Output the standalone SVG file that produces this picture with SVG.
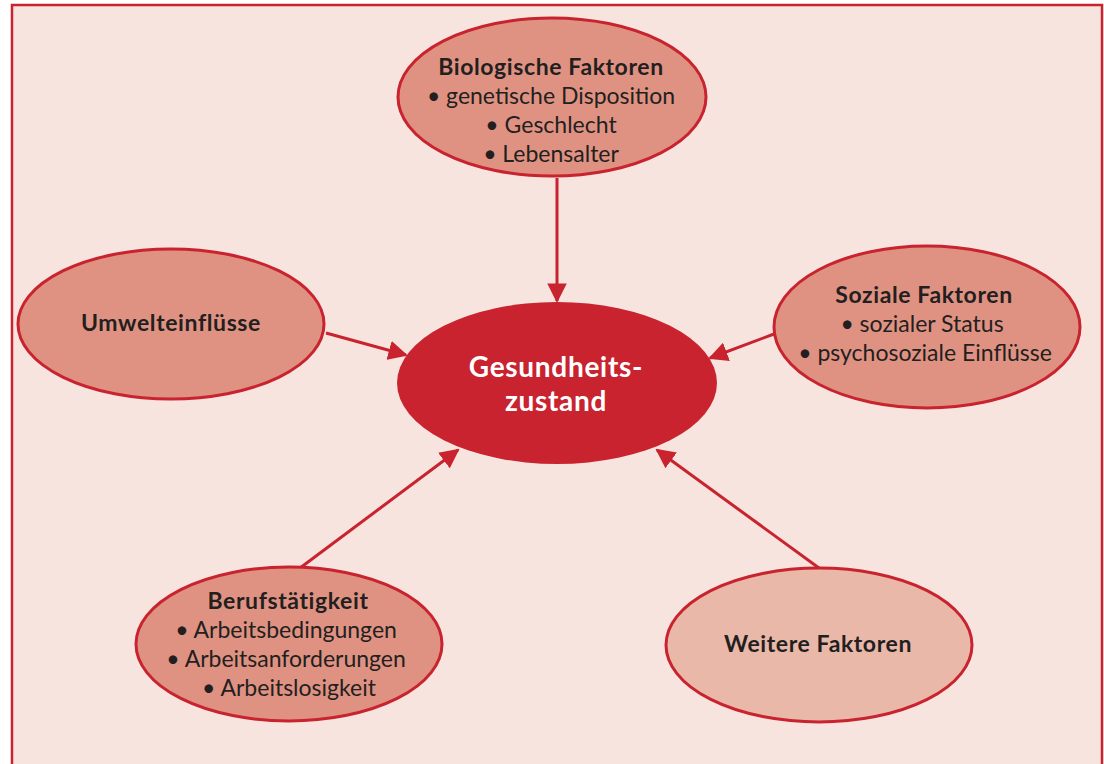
<svg xmlns="http://www.w3.org/2000/svg" width="1104" height="764" viewBox="0 0 1104 764">
<defs>
<style>
.node{fill:#E09282;stroke:#C8232F;stroke-width:3}
.light{fill:#EAB8A8}
.core{fill:#C8232F;stroke:none}
text{font-family:Lato,"Open Sans","Liberation Sans",sans-serif;font-size:23px;fill:#231F20;text-anchor:middle}
.b{font-weight:bold;letter-spacing:0.6px}
.w{fill:#FFFFFF;font-weight:bold;font-size:28px;letter-spacing:0.7px}
.con{stroke:#C8232F;stroke-width:3;fill:none;marker-end:url(#ah)}
</style>
<marker id="ah" viewBox="0 0 10 10" refX="9" refY="5" markerWidth="6.5" markerHeight="6.5" markerUnits="strokeWidth" orient="auto">
<path d="M0,0 L10,5 L0,10 Z" fill="#C8232F"/>
</marker>
</defs>
<rect x="0" y="0" width="1104" height="764" fill="#FFFFFF"/>
<rect x="12" y="5" width="1090" height="780" fill="#F7E4DE" stroke="#C8232F" stroke-width="2.5"/>
<g id="connectors">
<line class="con" x1="557" y1="178" x2="557" y2="301"/>
<line class="con" x1="326" y1="333" x2="406" y2="355"/>
<line class="con" x1="774" y1="334" x2="710" y2="358"/>
<line class="con" x1="300" y1="568" x2="458" y2="450"/>
<line class="con" x1="819" y1="568" x2="657" y2="450"/>
</g>
<g id="bio">
<ellipse class="node" cx="552" cy="97" rx="154" ry="79"/>
<text class="b" x="551" y="75">Biologische Faktoren</text>
<text x="551" y="104">• genetische Disposition</text>
<text x="551" y="133">• Geschlecht</text>
<text x="551" y="162">• Lebensalter</text>
</g>
<g id="umwelt">
<ellipse class="node" cx="171" cy="324" rx="153" ry="75"/>
<text class="b" x="171" y="331">Umwelteinflüsse</text>
</g>
<g id="sozial">
<ellipse class="node" cx="927" cy="327" rx="153" ry="81"/>
<text class="b" x="924" y="303">Soziale Faktoren</text>
<text x="922" y="332">• sozialer Status</text>
<text x="925" y="361">• psychosoziale Einflüsse</text>
</g>
<g id="center">
<ellipse class="core" cx="557" cy="383" rx="160" ry="81"/>
<text class="w" x="556" y="377">Gesundheits-</text>
<text class="w" x="556" y="411">zustand</text>
</g>
<g id="beruf">
<ellipse class="node" cx="289" cy="644" rx="153" ry="77"/>
<text class="b" x="288" y="609">Berufstätigkeit</text>
<text x="286" y="638">• Arbeitsbedingungen</text>
<text x="286" y="667">• Arbeitsanforderungen</text>
<text x="289" y="696">• Arbeitslosigkeit</text>
</g>
<g id="weitere">
<ellipse class="node light" cx="819" cy="645" rx="153" ry="77"/>
<text class="b" x="818" y="652">Weitere Faktoren</text>
</g>
</svg>
